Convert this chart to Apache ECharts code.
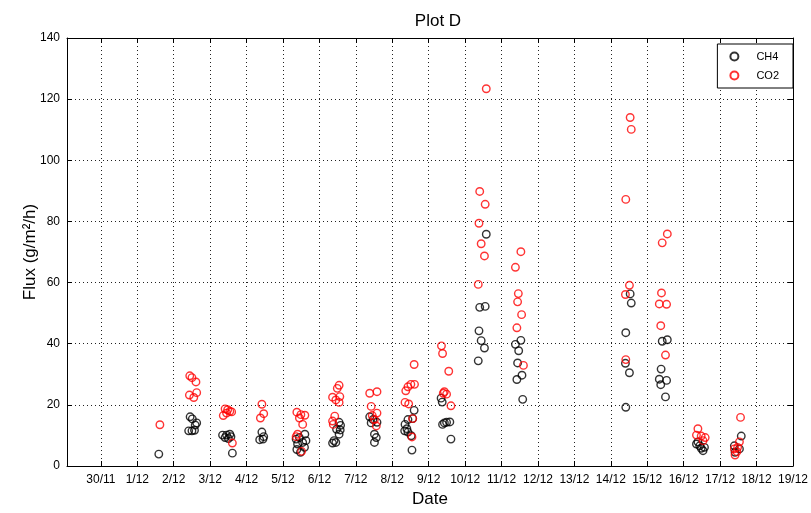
<!DOCTYPE html>
<html>
<head>
<meta charset="utf-8">
<script src="https://cdn.jsdelivr.net/npm/echarts@6/dist/echarts.min.js"></script>
<style>html,body{margin:0;padding:0;background:#fff}#c{width:811px;height:513px}</style>
</head>
<body>
<div id="c"></div>
<script>
// Tick labels for x axis (day 0 = 30/11)
const dateLabels = ['30/11','1/12','2/12','3/12','4/12','5/12','6/12','7/12','8/12','9/12','10/12','11/12','12/12','13/12','14/12','15/12','16/12','17/12','18/12','19/12'];
const yTicks = [0,20,40,60,80,100,120,140];

// CH4 measurements: day offset from 30/11, flux
const ch4Day = [1.59,
  2.45,2.51,2.63,2.59,2.41,2.50,2.57,
  3.34,3.45,3.54,3.41,3.50,3.57,3.61,
  4.42,4.47,4.36,4.45,
  5.36,5.45,5.60,5.40,5.54,5.38,5.48,5.59,5.63,
  6.54,6.58,6.47,6.57,6.54,6.40,6.36,6.45,
  7.38,7.47,7.58,7.42,7.51,7.56,7.51,
  8.60,8.43,8.56,8.35,8.40,8.34,8.43,8.52,8.54,
  9.34,9.37,9.43,9.49,9.58,9.38,9.61,
  10.58,10.40,10.55,10.38,10.44,10.53,10.36,
  11.53,11.38,11.47,11.44,11.56,11.42,11.58,
  14.53,14.56,14.41,14.40,14.51,14.41,
  15.55,15.41,15.38,15.33,15.53,15.37,15.50,
  16.35,16.44,16.53,16.48,16.39,16.57,
  17.58,17.39,17.53,17.41];
const ch4Flux = [3.9,
  16.1,15.4,14.1,13.4,11.5,11.5,11.7,
  10.1,10.1,10.4,9.3,9.0,9.6,4.2,
  11.1,9.6,8.6,8.8,
  8.8,9.3,10.4,7.2,7.7,5.4,4.5,6.1,8.3,
  14.3,13.3,12.0,11.8,10.4,8.3,7.5,7.7,
  16.1,15.2,14.3,14.1,10.4,9.3,7.7,
  18.2,15.2,15.5,13.6,12.2,11.5,11.1,9.9,5.2,
  22.2,20.9,14.1,14.3,14.4,13.6,8.8,
  75.8,51.9,52.2,44.2,41.0,38.6,34.4,
  41.1,39.8,37.7,33.7,29.7,28.3,21.8,
  56.3,53.3,43.6,33.6,30.5,19.2,
  41.3,40.8,31.7,28.4,28.0,26.6,22.6,
  7.2,6.6,5.0,5.8,7.9,6.1,
  9.8,6.6,5.6,4.5];

// CO2 measurements: day offset from 30/11, flux
const co2Day = [1.62,
  2.44,2.50,2.61,2.43,2.55,2.63,
  3.41,3.48,3.54,3.36,3.45,3.59,3.61,
  4.42,4.47,4.38,
  5.38,5.49,5.60,5.45,5.54,5.40,5.36,5.51,
  6.54,6.49,6.36,6.56,6.45,6.54,6.42,6.36,6.38,
  7.38,7.58,7.42,7.58,7.51,7.56,7.45,
  8.60,8.51,8.61,8.43,8.37,8.35,8.45,8.56,8.54,
  9.35,9.38,9.55,9.43,9.49,9.40,9.61,
  10.58,10.40,10.55,10.38,10.44,10.53,10.36,
  11.53,11.38,11.46,11.44,11.55,11.42,11.60,
  14.53,14.56,14.41,14.51,14.40,14.41,
  15.55,15.41,15.39,15.33,15.53,15.37,15.50,
  16.39,16.35,16.48,16.59,16.53,
  17.56,17.53,17.39,17.46,17.41,17.48];
const co2Flux = [13.5,
  29.5,28.9,27.5,23.2,22.4,24.0,
  18.7,18.4,17.9,16.5,17.3,17.7,7.5,
  20.2,17.1,15.7,
  17.6,16.8,16.6,15.7,13.6,10.4,9.6,4.8,
  26.4,25.4,22.5,22.7,21.6,20.8,16.3,14.7,13.6,
  23.8,24.3,19.5,17.3,15.2,13.1,16.5,
  33.2,26.7,26.7,25.9,24.6,20.8,20.3,15.5,9.5,
  39.3,36.8,31.0,24.3,23.5,23.8,19.7,
  123.4,89.8,85.6,79.4,72.7,68.7,59.4,
  70.1,65.0,56.4,53.7,49.5,45.2,32.9,
  114.0,110.1,87.2,59.1,56.1,34.8,
  75.9,73.0,56.6,53.0,52.9,45.9,36.3,
  12.2,10.1,9.8,9.3,8.3,
  15.9,7.9,5.6,4.7,3.6,6.1];

const tickDays = dateLabels.map((_, i) => i);
const ch4Data = ch4Day.map((d, i) => [d, ch4Flux[i]]);
const co2Data = co2Day.map((d, i) => [d, co2Flux[i]]);

const FONT = "'Liberation Sans', Arial, Helvetica, sans-serif";
const chart = echarts.init(document.getElementById('c'), null, {renderer: 'canvas'});

const gridLine = {show: true, lineStyle: {color: '#222', width: 1, type: [1, 3]}};
const axisLine = {show: true, onZero: false, lineStyle: {color: '#000', width: 1}};

chart.setOption({
  animation: false,
  backgroundColor: '#fff',
  textStyle: {fontFamily: FONT},
  title: {
    text: 'Plot D', left: 433, top: 8, textAlign: 'center',
    textStyle: {fontFamily: FONT, fontSize: 17, fontWeight: 'normal', color: '#000'}
  },
  legend: {
    orient: 'vertical', right: 18, top: 44,
    data: ['CH4', 'CO2'],
    backgroundColor: '#fff', borderColor: '#000', borderWidth: 1,
    padding: [7, 14, 7, 12], itemGap: 8, itemWidth: 34, itemHeight: 8,
    textStyle: {fontFamily: FONT, fontSize: 11, color: '#000'}
  },
  grid: {left: 67, right: 14, top: 38, bottom: 39, containLabel: false},
  xAxis: [{
    type: 'value', min: -0.93, max: 19, position: 'bottom',
    name: 'Date', nameLocation: 'middle', nameGap: 25, nameMoveOverlap: false,
    nameTextStyle: {fontFamily: FONT, fontSize: 17, color: '#000'},
    axisLine: axisLine,
    axisTick: {show: true, inside: true, length: 5, customValues: tickDays, lineStyle: {color: '#000'}},
    axisLabel: {customValues: tickDays, color: '#000', fontSize: 12, fontFamily: FONT, margin: 8,
      formatter: v => dateLabels[Math.round(v)] || ''},
    splitLine: gridLine
  }, {
    type: 'value', min: -0.93, max: 19, position: 'top',
    axisLine: axisLine,
    axisTick: {show: true, inside: true, length: 5, customValues: tickDays, lineStyle: {color: '#000'}},
    axisLabel: {show: false}, splitLine: {show: false}
  }],
  yAxis: [{
    type: 'value', min: 0, max: 140, interval: 20, position: 'left',
    name: 'Flux (g/m²/h)', nameLocation: 'middle', nameGap: 28, nameRotate: 90, nameMoveOverlap: false,
    nameTextStyle: {fontFamily: FONT, fontSize: 17, color: '#000'},
    axisLine: axisLine,
    axisTick: {show: true, inside: true, length: 5, lineStyle: {color: '#000'}},
    axisLabel: {color: '#000', fontSize: 12, fontFamily: FONT, margin: 7},
    splitLine: gridLine
  }, {
    type: 'value', min: 0, max: 140, interval: 20, position: 'right',
    axisLine: axisLine,
    axisTick: {show: true, inside: true, length: 5, lineStyle: {color: '#000'}},
    axisLabel: {show: false}, splitLine: {show: false}
  }],
  series: [{
    name: 'CH4', type: 'scatter', data: ch4Data, symbol: 'circle', symbolSize: 7.5,
    itemStyle: {color: 'rgba(255,255,255,0)', borderColor: '#000', borderWidth: 1.4}
  }, {
    name: 'CO2', type: 'scatter', data: co2Data, symbol: 'circle', symbolSize: 7.5,
    itemStyle: {color: 'rgba(255,255,255,0)', borderColor: '#ff0000', borderWidth: 1.4}
  }]
});
</script>
</body>
</html>
